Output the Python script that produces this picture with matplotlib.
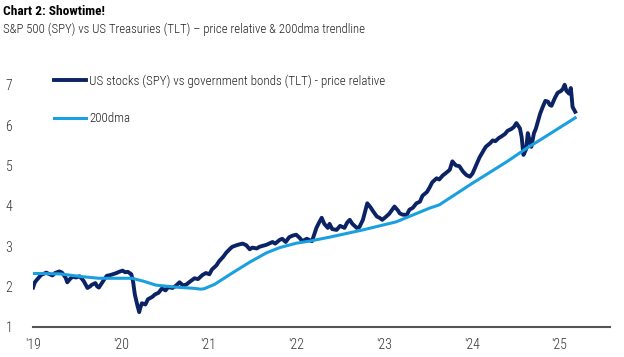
import numpy as np
import matplotlib.pyplot as plt

plt.rcParams['font.family'] = ['Roboto Condensed', 'DejaVu Sans']

# price relative, SPY vs TLT (decimal years)
rel_t = [2019.00, 2019.02, 2019.05, 2019.09, 2019.15, 2019.19, 2019.22, 2019.25, 2019.30, 2019.33,
         2019.37, 2019.39, 2019.42, 2019.45, 2019.49, 2019.53, 2019.56, 2019.58, 2019.62, 2019.65,
         2019.67, 2019.71, 2019.73, 2019.75, 2019.79, 2019.81, 2019.84, 2019.88, 2019.91, 2019.95,
         2019.98, 2020.02, 2020.05, 2020.08, 2020.12, 2020.14, 2020.16, 2020.19, 2020.21, 2020.22,
         2020.24, 2020.28, 2020.31, 2020.36, 2020.39, 2020.43, 2020.47, 2020.51, 2020.54, 2020.59,
         2020.62, 2020.67, 2020.71, 2020.75, 2020.79, 2020.84, 2020.88, 2020.93, 2020.97, 2021.01,
         2021.04, 2021.09, 2021.12, 2021.17, 2021.20, 2021.24, 2021.27, 2021.32, 2021.35, 2021.39,
         2021.43, 2021.47, 2021.50, 2021.55, 2021.58, 2021.61, 2021.66, 2021.69, 2021.73, 2021.76,
         2021.81, 2021.84, 2021.88, 2021.92, 2021.96, 2022.00, 2022.04, 2022.07, 2022.12, 2022.15,
         2022.18, 2022.23, 2022.26, 2022.29, 2022.32, 2022.36, 2022.38, 2022.41, 2022.46, 2022.50,
         2022.55, 2022.58, 2022.61, 2022.64, 2022.69, 2022.72, 2022.76, 2022.79, 2022.81, 2022.85,
         2022.88, 2022.92, 2022.95, 2022.98, 2023.02, 2023.06, 2023.10, 2023.12, 2023.16, 2023.18,
         2023.21, 2023.26, 2023.29, 2023.33, 2023.37, 2023.41, 2023.44, 2023.49, 2023.52, 2023.55,
         2023.60, 2023.63, 2023.67, 2023.70, 2023.75, 2023.78, 2023.82, 2023.86, 2023.90, 2023.94,
         2023.98, 2024.01, 2024.05, 2024.09, 2024.13, 2024.16, 2024.21, 2024.24, 2024.27, 2024.31,
         2024.34, 2024.38, 2024.41, 2024.45, 2024.48, 2024.51, 2024.55, 2024.57, 2024.59, 2024.62,
         2024.64, 2024.66, 2024.68, 2024.71, 2024.73, 2024.75, 2024.78, 2024.81, 2024.84, 2024.87,
         2024.89, 2024.91, 2024.95, 2024.98, 2025.02, 2025.04, 2025.06, 2025.08, 2025.11, 2025.13,
         2025.14, 2025.15, 2025.18]
rel_v = [1.97, 2.10, 2.18, 2.28, 2.34, 2.30, 2.27, 2.33, 2.37, 2.34,
         2.22, 2.10, 2.18, 2.24, 2.22, 2.25, 2.18, 2.12, 1.96, 2.00,
         2.04, 2.08, 2.00, 1.97, 2.10, 2.17, 2.26, 2.28, 2.30, 2.33,
         2.36, 2.39, 2.35, 2.36, 2.30, 2.12, 1.80, 1.52, 1.36, 1.45,
         1.58, 1.55, 1.68, 1.74, 1.80, 1.84, 1.95, 1.90, 1.98, 1.96,
         2.00, 2.10, 2.02, 2.05, 2.12, 2.20, 2.18, 2.28, 2.33, 2.30,
         2.42, 2.52, 2.62, 2.74, 2.83, 2.92, 2.98, 3.02, 3.04, 3.06,
         3.02, 2.92, 2.96, 2.94, 2.98, 3.00, 3.03, 3.06, 3.10, 3.06,
         3.15, 3.18, 3.10, 3.22, 3.26, 3.28, 3.20, 3.12, 3.18, 3.15,
         3.12, 3.45, 3.58, 3.70, 3.55, 3.45, 3.55, 3.42, 3.40, 3.50,
         3.45, 3.58, 3.65, 3.55, 3.45, 3.47, 3.65, 3.90, 4.06, 3.95,
         3.85, 3.73, 3.70, 3.65, 3.72, 3.80, 3.92, 3.98, 3.88, 3.81,
         3.78, 3.77, 3.90, 3.95, 4.06, 4.10, 4.25, 4.34, 4.45, 4.58,
         4.68, 4.65, 4.75, 4.80, 4.89, 5.10, 5.00, 4.98, 4.85, 4.76,
         4.72, 4.80, 5.00, 5.20, 5.35, 5.46, 5.55, 5.62, 5.60, 5.68,
         5.72, 5.78, 5.86, 5.90, 5.95, 6.05, 5.92, 5.70, 5.26, 5.40,
         5.80, 5.62, 5.46, 5.80, 5.90, 6.05, 6.28, 6.45, 6.60, 6.58,
         6.50, 6.48, 6.68, 6.80, 6.85, 6.90, 7.00, 6.85, 6.78, 6.92,
         6.70, 6.45, 6.33]

# 200-day moving average
dma_t = [2019.00, 2019.30, 2019.56, 2019.75, 2020.13, 2020.27, 2020.40, 2020.63, 2020.84, 2020.91,
         2020.95, 2021.07, 2021.27, 2021.47, 2021.66, 2021.81, 2022.00, 2022.15, 2022.38, 2022.76,
         2023.14, 2023.52, 2023.63, 2024.01, 2024.40, 2024.63, 2024.78, 2025.18]
dma_v = [2.32, 2.31, 2.24, 2.20, 2.20, 2.12, 2.03, 1.98, 1.95, 1.93,
         1.94, 2.05, 2.33, 2.60, 2.83, 2.96, 3.07, 3.12, 3.22, 3.40,
         3.60, 3.94, 4.02, 4.56, 5.09, 5.43, 5.63, 6.18]

years = [2019, 2020, 2021, 2022, 2023, 2024, 2025]
year_labels = ["'19", "'20", "'21", "'22", "'23", "'24", "'25"]

navy = '#0b2265'
sky = '#1a9fe0'

fig = plt.figure(figsize=(6.24, 3.57), dpi=100)
ax = fig.add_axes([0.053, 0.085, 0.925, 0.734])

ax.plot(rel_t, rel_v, color=navy, lw=2.8, solid_joinstyle='round',
        label='US stocks (SPY) vs government bonds (TLT) - price relative')
ax.plot(dma_t, dma_v, color=sky, lw=2.2,
        label='200dma')

ax.set_xlim(2019.0, 2025.58)
ax.set_ylim(1, 7.5)
ax.set_xticks(years)
ax.set_xticklabels(year_labels)
ax.set_yticks([1, 2, 3, 4, 5, 6, 7])
ax.tick_params(axis='both', length=0, labelsize=10, colors='#333333')
ax.tick_params(axis='y', pad=15)
ax.tick_params(axis='x', pad=8)
for lab in ax.get_xticklabels() + ax.get_yticklabels():
    lab.set_fontweight('light')
for s in ['top', 'right', 'left']:
    ax.spines[s].set_visible(False)
ax.spines['bottom'].set_color('#555555')
ax.spines['bottom'].set_linewidth(1.5)

leg = ax.legend(loc='upper left', bbox_to_anchor=(0.036, 0.962), frameon=False,
                fontsize=9.4, handlelength=2.5, handletextpad=0.2, labelspacing=1.85,
                borderpad=0, borderaxespad=0, labelcolor='#222222')
for t in leg.get_texts():
    t.set_fontweight('light')

fig.text(0.005, 0.968, 'Chart 2: Showtime!', fontsize=9.6, fontweight='bold', va='center')
fig.text(0.005, 0.918, 'S&P 500 (SPY) vs US Treasuries (TLT) \u2013 price relative & 200dma trendline',
         fontsize=9.2, fontweight='light', va='center', color='#222222')

plt.savefig('out.png', dpi=100)
